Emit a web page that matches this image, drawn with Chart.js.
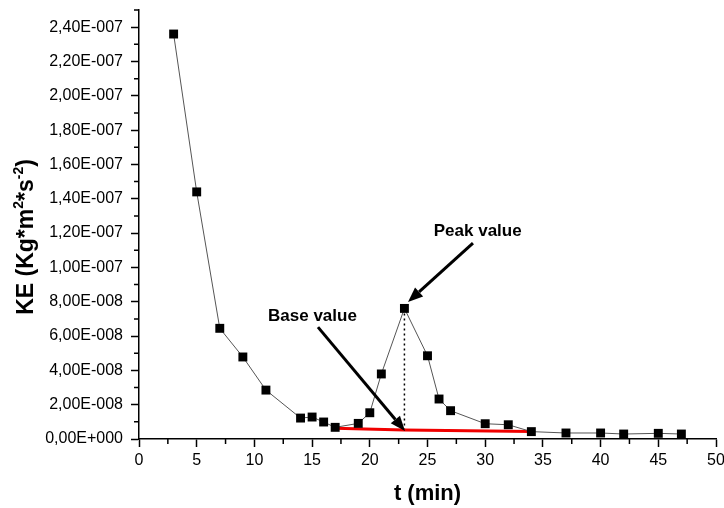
<!DOCTYPE html>
<html>
<head>
<meta charset="utf-8">
<script src="https://cdn.jsdelivr.net/npm/chart.js@4.4.0/dist/chart.umd.min.js"></script>
<style>
  html, body { margin: 0; padding: 0; background: #fff; }
</style>
</head>
<body>
<canvas id="ke-chart" width="724" height="508"></canvas>
<script>
// Data
const timeMin = [3, 5, 7, 9, 11, 14, 15, 16, 17, 19, 20, 21, 23, 25, 26, 27, 30, 32, 34, 37, 40, 42, 45, 47];
const keValues = [2.36e-7, 1.44e-7, 6.45e-8, 4.78e-8, 2.85e-8, 1.22e-8, 1.28e-8, 9.9e-9, 6.8e-9, 9.1e-9, 1.53e-8, 3.79e-8, 7.61e-8, 4.85e-8, 2.33e-8, 1.65e-8, 8.9e-9, 8.3e-9, 4.3e-9, 3.5e-9, 3.5e-9, 2.9e-9, 3.3e-9, 2.9e-9];
const baseTime = [17, 23, 34];
const baseValues = [6.2e-9, 5.2e-9, 4.4e-9];
const peakTime = [23, 23];
const peakValues = [7.61e-8, 5.2e-9];

const xTicks = [0, 5, 10, 15, 20, 25, 30, 35, 40, 45, 50];
const xMinorTicks = [2.5, 7.5, 12.5, 17.5, 22.5, 27.5, 32.5, 37.5, 42.5, 47.5];
const yTicks = [0, 2e-8, 4e-8, 6e-8, 8e-8, 1e-7, 1.2e-7, 1.4e-7, 1.6e-7, 1.8e-7, 2e-7, 2.2e-7, 2.4e-7];
const yMinorTicks = [1e-8, 3e-8, 5e-8, 7e-8, 9e-8, 1.1e-7, 1.3e-7, 1.5e-7, 1.7e-7, 1.9e-7, 2.1e-7, 2.3e-7, 2.5e-7];

// Annotations (data units)
const notes = [
  { text: "Peak value", tx: 29.35, ty: 1.2075e-7, fromX: 28.94, fromY: 1.1417e-7, toX: 23.31, toY: 7.98e-8 },
  { text: "Base value", tx: 15.03, ty: 7.165e-8, fromX: 15.51, fromY: 6.52e-8, toX: 23.05, toY: 4.66e-9 },
];

Chart.defaults.font.family = "'Liberation Sans', Arial, sans-serif";
Chart.defaults.color = "#000";

const toPoints = (xs, ys) => xs.map((v, i) => ({ x: v, y: ys[i] }));

const formatSci = (v) => {
  if (Math.abs(v) < 1e-15) return "0,00E+000";
  const [m, e] = v.toExponential(2).split("e");
  const exp = parseInt(e, 10);
  const sign = exp < 0 ? "-" : "+";
  return m.replace(".", ",") + "E" + sign + String(Math.abs(exp)).padStart(3, "0");
};

const drawArrow = (ctx, x1, y1, x2, y2) => {
  const angle = Math.atan2(y2 - y1, x2 - x1);
  const headLen = 15;
  const headW = 6;
  const bx = x2 - headLen * Math.cos(angle);
  const by = y2 - headLen * Math.sin(angle);
  ctx.lineWidth = 3;
  ctx.beginPath();
  ctx.moveTo(x1, y1);
  ctx.lineTo(bx, by);
  ctx.stroke();
  ctx.beginPath();
  ctx.moveTo(x2, y2);
  ctx.lineTo(bx + headW * Math.sin(angle), by - headW * Math.cos(angle));
  ctx.lineTo(bx - headW * Math.sin(angle), by + headW * Math.cos(angle));
  ctx.closePath();
  ctx.fill();
};

// Minor ticks, y title, arrows
const extrasPlugin = {
  id: "extras",
  afterDraw(chart) {
    const { ctx, chartArea } = chart;
    const x = chart.scales.x;
    const y = chart.scales.y;
    ctx.save();

    ctx.strokeStyle = "#000";
    ctx.lineWidth = 1.5;
    ctx.beginPath();
    xMinorTicks.forEach((v) => {
      const px = x.getPixelForValue(v);
      ctx.moveTo(px, chartArea.bottom);
      ctx.lineTo(px, chartArea.bottom + 5);
    });
    yMinorTicks.forEach((v) => {
      const py = y.getPixelForValue(v);
      ctx.moveTo(chartArea.left, py);
      ctx.lineTo(chartArea.left - 5, py);
    });
    ctx.stroke();

    // y axis title with superscripts
    const parts = [
      { t: "KE (Kg*m", sup: false },
      { t: "2", sup: true },
      { t: "*s", sup: false },
      { t: "-2", sup: true },
      { t: ")", sup: false },
    ];
    const bigFont = "bold 23px 'Liberation Sans', Arial, sans-serif";
    const smallFont = "bold 14px 'Liberation Sans', Arial, sans-serif";
    let total = 0;
    parts.forEach((p) => {
      ctx.font = p.sup ? smallFont : bigFont;
      p.w = ctx.measureText(p.t).width;
      total += p.w;
    });
    ctx.translate(33, 237);
    ctx.rotate(-Math.PI / 2);
    ctx.fillStyle = "#000";
    ctx.textBaseline = "alphabetic";
    ctx.textAlign = "left";
    let cx = -total / 2;
    parts.forEach((p) => {
      ctx.font = p.sup ? smallFont : bigFont;
      ctx.fillText(p.t, cx, p.sup ? -10 : 0);
      cx += p.w;
    });
    ctx.setTransform(1, 0, 0, 1, 0, 0);

    // annotations
    ctx.fillStyle = "#000";
    ctx.strokeStyle = "#000";
    ctx.font = "bold 17px 'Liberation Sans', Arial, sans-serif";
    ctx.textAlign = "center";
    ctx.textBaseline = "middle";
    notes.forEach((n) => {
      ctx.fillText(n.text, x.getPixelForValue(n.tx), y.getPixelForValue(n.ty));
      drawArrow(ctx, x.getPixelForValue(n.fromX), y.getPixelForValue(n.fromY), x.getPixelForValue(n.toX), y.getPixelForValue(n.toY));
    });

    ctx.restore();
  },
};

const chartElement = document.querySelector("#ke-chart");
if (chartElement) {
  new Chart(chartElement, {
    type: "line",
    data: {
      datasets: [
        {
          data: toPoints(timeMin, keValues),
          borderColor: "#555",
          borderWidth: 1,
          pointStyle: "rect",
          pointRadius: 6.3,
          pointBackgroundColor: "#000",
          pointBorderColor: "#000",
          pointBorderWidth: 0,
          order: 1,
        },
        {
          data: toPoints(baseTime, baseValues),
          borderColor: "#f00000",
          borderWidth: 3,
          pointRadius: 0,
          order: 2,
        },
        {
          data: toPoints(peakTime, peakValues),
          borderColor: "#000",
          borderWidth: 1.5,
          borderDash: [2, 3],
          pointRadius: 0,
          order: 3,
        },
      ],
    },
    options: {
      responsive: false,
      animation: false,
      layout: { padding: { top: 10, right: 8, left: 0, bottom: 0 } },
      plugins: {
        legend: { display: false },
        tooltip: { enabled: false },
      },
      scales: {
        x: {
          type: "linear",
          min: 0,
          max: 50,
          afterBuildTicks: (axis) => {
            axis.ticks = xTicks.map((v) => ({ value: v }));
          },
          afterFit: (scale) => {
            scale.height = 69;
            scale.paddingLeft = 0;
            scale.paddingRight = 0;
          },
          ticks: {
            color: "#000",
            font: { size: 16 },
            padding: 4,
            maxRotation: 0,
            autoSkip: false,
          },
          grid: {
            drawOnChartArea: false,
            tickLength: 8,
            tickColor: "#000",
            tickWidth: 1.5,
          },
          border: { color: "#000", width: 1.5 },
          title: {
            display: true,
            text: "t (min)",
            color: "#000",
            font: { size: 22, weight: "bold" },
            padding: { top: 0, bottom: 1 },
          },
        },
        y: {
          type: "linear",
          min: 0,
          max: 2.5e-7,
          afterBuildTicks: (axis) => {
            axis.ticks = yTicks.map((v) => ({ value: v }));
          },
          afterFit: (scale) => {
            scale.width = 139;
            scale.paddingTop = 0;
            scale.paddingBottom = 0;
          },
          ticks: {
            color: "#000",
            font: { size: 16 },
            padding: 8,
            callback: (value) => formatSci(value),
          },
          grid: {
            drawOnChartArea: false,
            tickLength: 8,
            tickColor: "#000",
            tickWidth: 1.5,
          },
          border: { color: "#000", width: 1.5 },
        },
      },
    },
    plugins: [extrasPlugin],
  });
}
</script>
</body>
</html>
